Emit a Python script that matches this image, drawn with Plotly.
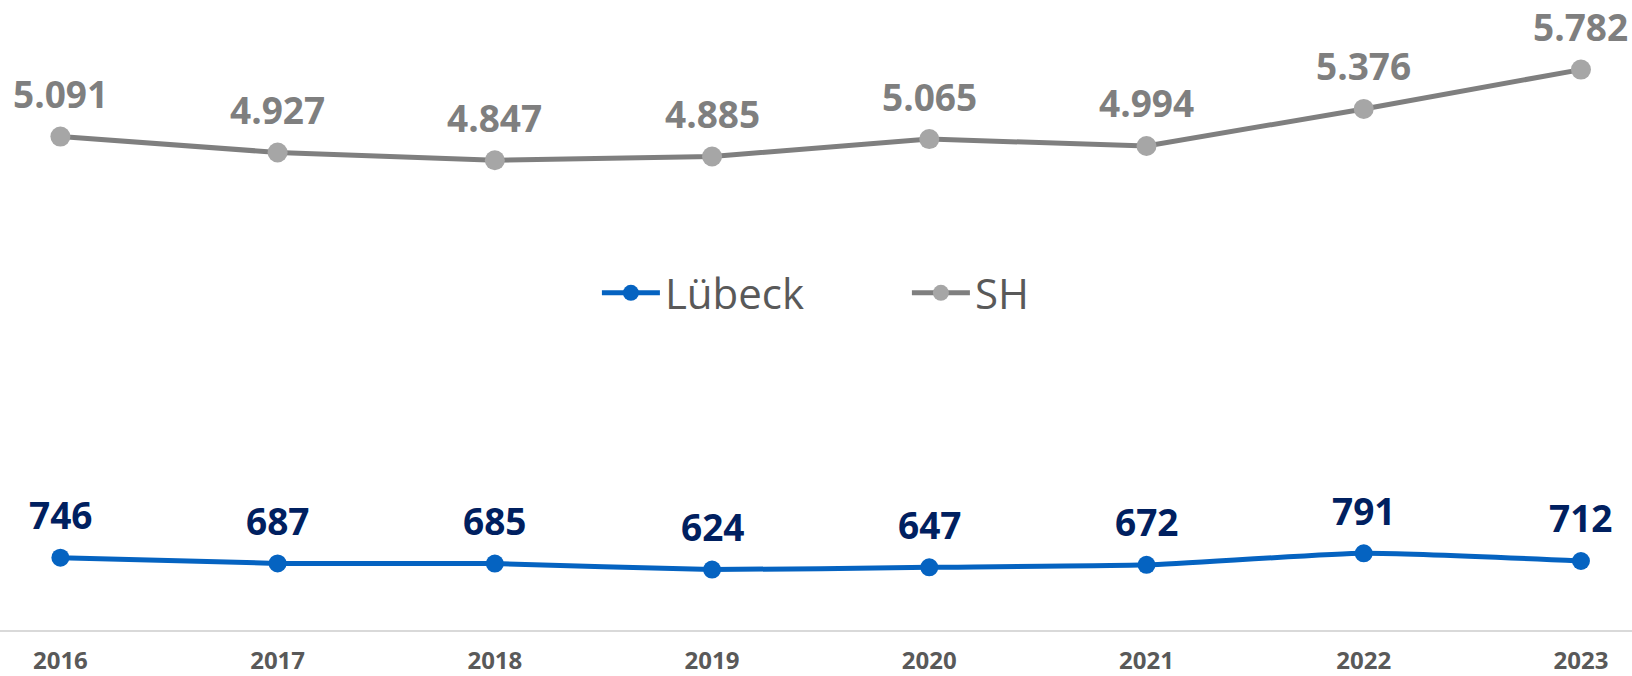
import plotly.graph_objects as go

years = [2016, 2017, 2018, 2019, 2020, 2021, 2022, 2023]
luebeck = [746, 687, 685, 624, 647, 672, 791, 712]
sh = [5091, 4927, 4847, 4885, 5065, 4994, 5376, 5782]
series_names = ["Lübeck", "SH"]

BLUE = "#0563C1"
NAVY = "#002060"
GRAY_LINE = "#7F7F7F"
GRAY_MARK = "#A6A6A6"
TXT = "#595959"
FONT = "Open Sans"


def de_fmt(v):
    return f"{v:,}".replace(",", ".")


fig = go.Figure()
fig.add_trace(go.Scatter(
    x=years, y=luebeck, name=series_names[0], mode="lines+markers",
    line=dict(color=BLUE, width=5, shape="spline", smoothing=0.5),
    marker=dict(color=BLUE, size=18),
    hoverinfo="skip",
))
fig.add_trace(go.Scatter(
    x=years, y=sh, name=series_names[1], mode="lines+markers",
    line=dict(color=GRAY_LINE, width=5),
    marker=dict(color=GRAY_MARK, size=20),
    hoverinfo="skip",
))

annotations = []
for x, v in zip(years, luebeck):
    annotations.append(dict(x=x, y=v, xref="x", yref="y", text=f"<b>{de_fmt(v)}</b>",
                            showarrow=False, yanchor="middle", yshift=43,
                            font=dict(family=FONT, size=37, color=NAVY)))
for x, v in zip(years, sh):
    annotations.append(dict(x=x, y=v, xref="x", yref="y", text=f"<b>{de_fmt(v)}</b>",
                            showarrow=False, yanchor="middle", yshift=43,
                            font=dict(family=FONT, size=37, color=GRAY_LINE)))

fig.update_layout(
    width=1632, height=676,
    margin=dict(l=0, r=0, t=0, b=46, autoexpand=False),
    paper_bgcolor="white", plot_bgcolor="white",
    font=dict(family=FONT, color=TXT),
    showlegend=True,
    legend=dict(orientation="h", x=0.5557, xanchor="center", y=1 - 293 / 630, yanchor="middle",
                font=dict(family=FONT, size=42, color=TXT),
                itemwidth=58,
                entrywidth=237, entrywidthmode="pixels",
                bgcolor="rgba(0,0,0,0)"),
    annotations=annotations,
    xaxis=dict(range=[years[0] - 0.278, years[-1] + 0.235], tickvals=years,
               ticktext=[f"<b>{y}</b>" for y in years],
               tickfont=dict(family=FONT, size=24, color=TXT),
               showgrid=False, zeroline=False, showline=True, linecolor="#D9D9D9", linewidth=2,
               ticks="outside", ticklen=8, tickcolor="rgba(0,0,0,0)", automargin=False,
               fixedrange=True),
    yaxis=dict(range=[0, 6500], visible=False, showgrid=False, zeroline=False, fixedrange=True),
)

fig.write_html("out.html", config={"displayModeBar": False},
               post_script="document.body.style.margin='0';document.body.style.overflow='hidden';")
